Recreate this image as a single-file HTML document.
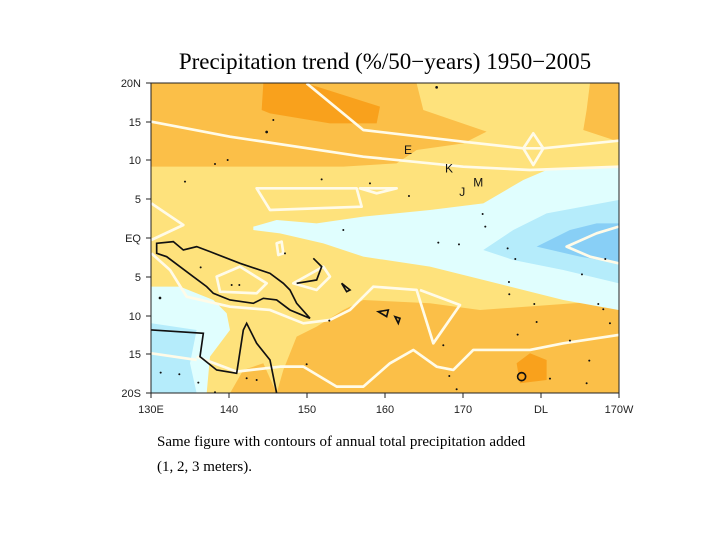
<!DOCTYPE html>
<html><head><meta charset="utf-8"><style>
body{margin:0;background:#fff;width:720px;height:540px;overflow:hidden}
svg{display:block}
.tk{font-family:"Liberation Sans",sans-serif;font-size:11px;fill:#222}
.cap{font-family:"Liberation Serif",serif;font-size:15px;fill:#000}
</style></head><body>
<svg width="720" height="540">
<text x="385" y="69" text-anchor="middle" font-family="Liberation Serif,serif" font-size="23">Precipitation trend (%/50−years) 1950−2005</text>
<defs><clipPath id="c"><rect x="64" y="40" width="1402" height="930"/></clipPath></defs>
<g transform="translate(130,70) scale(0.3333)" clip-path="url(#c)">
<rect x="64" y="40" width="1402" height="930" fill="#fee27c"/>
<polygon fill="#fbbf48" points="64,40 860,40 880,120 1070,185 1000,220 860,240 800,280 640,290 400,290 64,290"/>
<polygon fill="#fbbf48" points="1380,40 1466,40 1466,215 1360,180 1370,120"/>
<polygon fill="#f9a11c" points="400,40 530,40 750,110 740,160 600,160 420,130 395,120"/>
<polygon fill="#fbbf48" points="440,970 460,900 500,800 560,770 640,720 700,690 900,700 1050,720 1466,690 1466,970"/>
<polygon fill="#fbbf48" points="300,970 340,900 400,880 440,970"/>
<polygon fill="#f9a11c" points="1160,880 1200,850 1250,870 1250,930 1170,940"/>
<polygon fill="#e0fefe" points="370,470 440,450 560,460 700,440 900,420 1060,400 1180,330 1250,300 1466,290 1466,720 1300,690 1100,640 900,590 700,560 580,520 450,490 370,480"/>
<polygon fill="#b5ecfb" points="1060,540 1150,480 1250,430 1466,390 1466,640 1300,600 1150,570"/>
<polygon fill="#88cff6" points="1220,530 1320,480 1400,460 1466,460 1466,580 1350,560"/>
<polygon fill="#e0fefe" points="64,650 150,650 250,690 290,730 300,780 240,860 230,970 64,970"/>
<polygon fill="#b5ecfb" points="64,760 200,780 180,880 200,970 64,970"/>
<g fill="none" stroke="#fffbe8" stroke-width="8" stroke-linejoin="round">
<polyline points="530,40 700,180 1000,215 1180,235 1240,235 1466,212"/>
<polygon points="1180,235 1210,190 1240,235 1210,285"/>
<polyline points="64,155 300,200 700,260 1000,290 1200,300 1466,290"/>
<polygon points="380,355 680,355 695,410 420,420"/>
<polygon points="690,355 800,355 740,370"/>
<polyline points="64,400 160,465 64,510"/>
<polyline points="1466,470 1400,490 1310,530 1380,560 1466,580"/>
<polyline points="64,550 120,600 170,680 300,710 420,720 520,760 600,750 660,720 730,650 860,660 910,820 990,705 870,660"/>
<polyline points="200,860 320,905 450,890 520,890 620,950 700,950 780,880 850,840 920,890 970,900 1030,840 1200,840 1300,820 1466,795"/>
<polyline points="64,850 200,870"/>
<polygon points="260,620 330,590 410,640 380,670 270,665"/>
<polygon points="490,640 580,590 600,620 560,660"/>
<polygon points="440,520 455,515 460,550 445,555"/>
</g>
<g fill="none" stroke="#111" stroke-width="5">
<polygon points="80,520 130,515 160,540 200,530 240,545 330,580 420,610 460,640 480,660 500,700 540,745 480,720 440,690 400,685 370,700 300,690 250,670 230,650 190,620 150,590 110,560 80,550"/>
<polyline points="64,780 220,790 210,860 260,900 320,910 340,780 350,760 380,820 420,870 440,970"/>
<polyline points="500,640 560,630 575,590 550,565"/>
<polygon points="635,640 660,660 650,665"/>
<polygon points="745,725 775,720 770,740"/>
<polygon points="795,740 810,745 805,760"/>
<circle cx="1175" cy="920" r="12"/>
</g>
<g fill="#111">
<circle cx="920" cy="52" r="4"/><circle cx="410" cy="186" r="4"/><circle cx="430" cy="150" r="3"/><circle cx="255" cy="282" r="3"/><circle cx="293" cy="270" r="3"/><circle cx="575" cy="328" r="3"/><circle cx="720" cy="340" r="3"/><circle cx="837" cy="378" r="3"/><circle cx="165" cy="335" r="3"/><circle cx="1058" cy="432" r="3"/><circle cx="1066" cy="470" r="3"/><circle cx="640" cy="480" r="3"/><circle cx="925" cy="518" r="3"/><circle cx="987" cy="523" r="3"/><circle cx="1133" cy="535" r="3"/><circle cx="1156" cy="567" r="3"/><circle cx="1426" cy="567" r="3"/><circle cx="1356" cy="613" r="3"/><circle cx="1137" cy="636" r="3"/><circle cx="1138" cy="673" r="3"/><circle cx="1213" cy="702" r="3"/><circle cx="1405" cy="702" r="3"/><circle cx="1420" cy="718" r="3"/><circle cx="1220" cy="756" r="3"/><circle cx="1440" cy="760" r="3"/><circle cx="1163" cy="794" r="3"/><circle cx="1320" cy="812" r="3"/><circle cx="940" cy="826" r="3"/><circle cx="958" cy="918" r="3"/><circle cx="980" cy="958" r="3"/><circle cx="1260" cy="926" r="3"/><circle cx="1378" cy="872" r="3"/><circle cx="1370" cy="940" r="3"/><circle cx="598" cy="752" r="3"/><circle cx="530" cy="883" r="3"/><circle cx="350" cy="925" r="3"/><circle cx="380" cy="930" r="3"/><circle cx="205" cy="938" r="3"/><circle cx="92" cy="908" r="3"/><circle cx="148" cy="913" r="3"/><circle cx="255" cy="967" r="3"/><circle cx="90" cy="684" r="4"/><circle cx="212" cy="592" r="3"/><circle cx="305" cy="645" r="3"/><circle cx="328" cy="645" r="3"/><circle cx="465" cy="550" r="3"/>
</g>
<g font-family="Liberation Sans,sans-serif" font-size="36" fill="#111">
<text x="822" y="252">E</text><text x="945" y="308">K</text><text x="988" y="378">J</text><text x="1030" y="350">M</text>
</g>
</g>
<rect x="151" y="83" width="468" height="310" fill="none" stroke="#222" stroke-width="1"/>
<g stroke="#222">
<line x1="146" y1="83" x2="151" y2="83"/><line x1="146" y1="122" x2="151" y2="122"/><line x1="146" y1="160" x2="151" y2="160"/><line x1="146" y1="199" x2="151" y2="199"/><line x1="146" y1="238" x2="151" y2="238"/><line x1="146" y1="277" x2="151" y2="277"/><line x1="146" y1="316" x2="151" y2="316"/><line x1="146" y1="354" x2="151" y2="354"/><line x1="146" y1="393" x2="151" y2="393"/>
<line x1="151" y1="393" x2="151" y2="398"/><line x1="229" y1="393" x2="229" y2="398"/><line x1="307" y1="393" x2="307" y2="398"/><line x1="385" y1="393" x2="385" y2="398"/><line x1="463" y1="393" x2="463" y2="398"/><line x1="541" y1="393" x2="541" y2="398"/><line x1="619" y1="393" x2="619" y2="398"/>
</g>
<g class="tk" text-anchor="end">
<text x="141" y="87">20N</text><text x="141" y="126">15</text><text x="141" y="164">10</text><text x="141" y="203">5</text><text x="141" y="242">EQ</text><text x="141" y="281">5</text><text x="141" y="320">10</text><text x="141" y="358">15</text><text x="141" y="397">20S</text>
</g>
<g class="tk" text-anchor="middle">
<text x="151" y="413">130E</text><text x="229" y="413">140</text><text x="307" y="413">150</text><text x="385" y="413">160</text><text x="463" y="413">170</text><text x="541" y="413">DL</text><text x="619" y="413">170W</text>
</g>
<text class="cap" x="157" y="446">Same figure with contours of annual total precipitation added</text>
<text class="cap" x="157" y="471">(1, 2, 3 meters).</text>
</svg>
</body></html>
